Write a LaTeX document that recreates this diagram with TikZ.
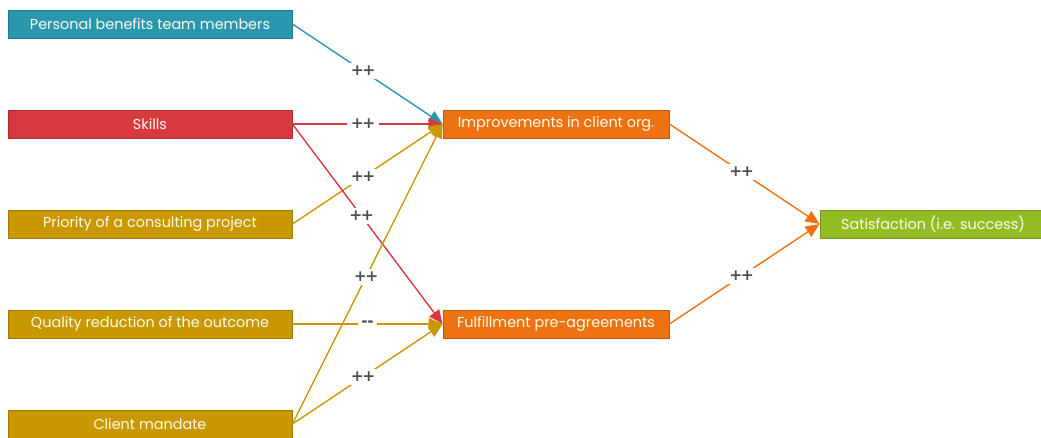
\documentclass[tikz,border=0pt]{standalone}
\usepackage{fontspec}
\setmainfont{Poppins}
\newfontfamily\signfont{DejaVu Sans}
\usetikzlibrary{arrows.meta}
\definecolor{cteal}{HTML}{2A97AF}
\definecolor{cred}{HTML}{D63A3F}
\definecolor{cgold}{HTML}{C99700}
\definecolor{corange}{HTML}{EE7112}
\definecolor{cgreen}{HTML}{93BB23}
\definecolor{csign}{HTML}{505050}
\newcommand{\pp}{+\kern-1.5pt+}
\newcommand{\mm}{-\kern-0.5pt-}
\newcommand{\boxtext}[1]{\raisebox{-1.5pt}{#1}}
\tikzset{
  box/.style={draw=#1!80!black, fill=#1, line width=0.8pt, inner sep=0pt,
    minimum height=28pt, text=white!92!yellow, font=\fontsize{14.4}{16}\selectfont},
  srcbox/.style={box=#1, minimum width=284pt},
  midbox/.style={box=#1, minimum width=226pt},
  link/.style={draw=#1, line width=1.4pt,
    -{Triangle[length=14pt,width=12pt]}},
  sign/.style={fill=white, inner sep=3.5pt, text=csign,
    font=\signfont\bfseries\fontsize{15.5}{16}\selectfont},
}
\begin{document}
\begin{tikzpicture}[x=1pt,y=-1pt]
\useasboundingbox (0,0) rectangle (1041,437);
% source factors
\node[srcbox=cteal] (ben) at (150,24) {\boxtext{Personal benefits team members}};
\node[srcbox=cred]  (ski) at (150,124) {\boxtext{Skills}};
\node[srcbox=cgold] (pri) at (150,224) {\boxtext{Priority of a consulting project}};
\node[srcbox=cgold] (qua) at (150,324) {\boxtext{Quality reduction of the outcome}};
\node[srcbox=cgold] (cli) at (150,424) {\boxtext{Client mandate}};
% intermediate outcomes
\node[midbox=corange] (imp) at (556,124) {\boxtext{Improvements in client org.}};
\node[midbox=corange] (ful) at (556,324) {\boxtext{Fulfillment pre-agreements}};
% final outcome
\node[box=cgreen, minimum width=226pt] (sat) at (933,224) {\boxtext{Satisfaction (i.e. success)}};
% influences
\draw[link=cteal] (ben.east) -- node[sign, pos=0.47] {\pp} (imp.west);
\draw[link=cred]  (ski.east) -- node[sign, pos=0.47] {\pp} (imp.west);
\draw[link=cgold] (pri.east) -- node[sign, pos=0.47] {\pp} (imp.west);
\draw[link=cred]  (ski.east) -- node[sign, pos=0.46] {\pp} (ful.west);
\draw[link=cgold] (cli.east) -- node[sign, pos=0.49] {\pp} (imp.west);
\draw[link=cgold] (qua.east) -- node[sign, pos=0.5] {\mm} (ful.west);
\draw[link=cgold] (cli.east) -- node[sign, pos=0.47] {\pp} (ful.west);
\draw[link=corange] (imp.east) -- node[sign, pos=0.48] {\pp} (sat.west);
\draw[link=corange] (ful.east) -- node[sign, pos=0.48] {\pp} (sat.west);
\end{tikzpicture}
\end{document}
